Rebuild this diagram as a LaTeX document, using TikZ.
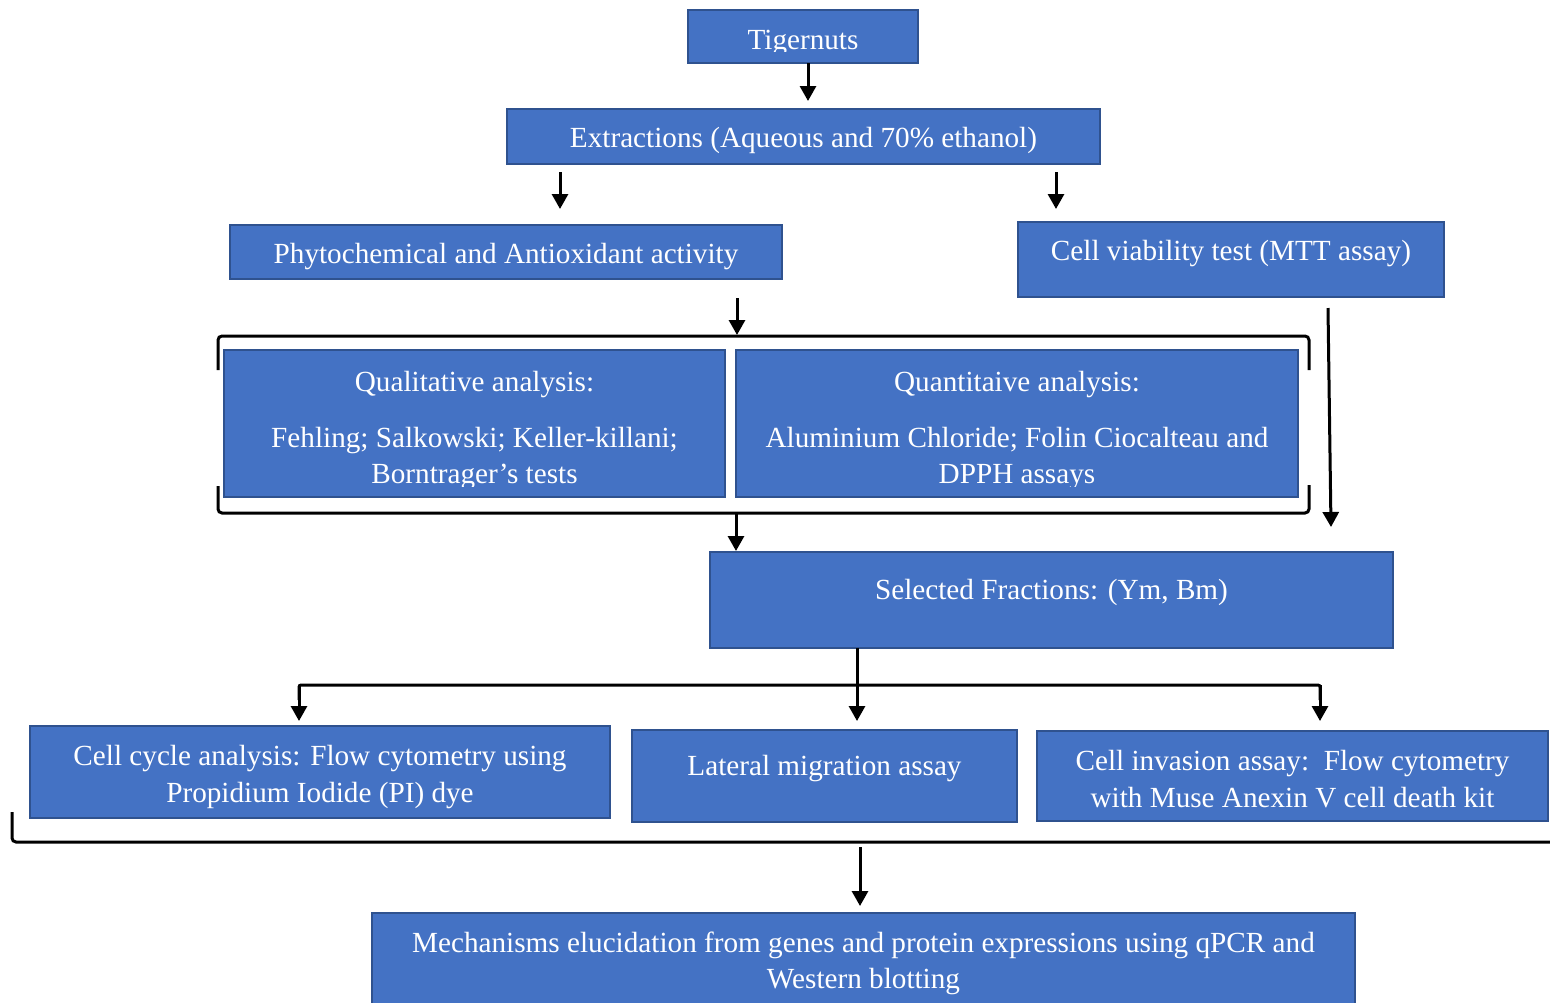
\documentclass[tikz,border=0pt]{standalone}
\usepackage{fontspec}
\setmainfont{Liberation Serif}
\usetikzlibrary{arrows.meta}
\definecolor{boxfill}{HTML}{4472C4}
\definecolor{boxline}{HTML}{2F528F}
\begin{document}
\begin{tikzpicture}[x=1pt,y=-1pt,
  box/.style={draw=boxline, fill=boxfill, line width=2pt, rectangle, inner sep=0pt, outer sep=0pt, anchor=north west},
  txt/.style={text=white, font=\fontsize{29.2}{36}\selectfont, inner sep=0pt, anchor=base},
  arr/.style={line width=3pt, -{Triangle[width=16pt,length=15pt]}},
  brk/.style={line width=3pt, rounded corners=4pt}]
\useasboundingbox (0,0) rectangle (1550,1002);
% boxes
\node[box, minimum width=230pt, minimum height=53pt] (tig) at (688,10) {};
\node[box, minimum width=593pt, minimum height=55pt] (ext) at (507,109) {};
\node[box, minimum width=552pt, minimum height=54pt] (phy) at (230,225) {};
\node[box, minimum width=426pt, minimum height=75pt] (via) at (1018,222) {};
\node[box, minimum width=501pt, minimum height=147pt] (qual) at (224,350) {};
\node[box, minimum width=562pt, minimum height=147pt] (quan) at (736,350) {};
\node[box, minimum width=683pt, minimum height=96pt] (sel) at (710,552) {};
\node[box, minimum width=580pt, minimum height=92pt] (cyc) at (30,726) {};
\node[box, minimum width=385pt, minimum height=92pt] (lat) at (632,730) {};
\node[box, minimum width=511pt, minimum height=90pt] (inv) at (1037,731) {};
\node[box, minimum width=983pt, minimum height=97pt] (mech) at (372,913) {};
% texts
\begin{scope}
\clip (688,10) rectangle (918,51);
\node[txt] (tigT) at (803,49) {Tigernuts};
\end{scope}
\node[txt] (extT) at (803.5,147) {Extractions (Aqueous and 70\% ethanol)};
\node[txt] (phyT) at (506,263) {Phytochemical and Antioxidant activity};
\node[txt] (viaT) at (1231,260) {Cell viability test (MTT assay)};
\node[txt] (qualT1) at (474.5,391) {Qualitative analysis:};
\node[txt] (qualT2) at (474.5,447) {Fehling; Salkowski; Keller-killani;};
\node[txt] (quanT1) at (1017,391) {Quantitaive analysis:};
\node[txt] (quanT2) at (1017,447) {Aluminium Chloride; Folin Ciocalteau and};
\begin{scope}
\clip (224,350) rectangle (1298,486);
\node[txt] (qualT3) at (474.5,483) {Borntrager’s tests};
\node[txt] (quanT3) at (1017,483) {DPPH assays};
\end{scope}
\node[txt] (selT) at (1051.5,599) {Selected Fractions: (Ym, Bm)};
\node[txt] (cycT1) at (320,765) {Cell cycle analysis: Flow cytometry using};
\node[txt] (cycT2) at (320,802) {Propidium Iodide (PI) dye};
\node[txt] (latT) at (824.5,775) {Lateral migration assay};
\node[txt] (invT1) at (1292.5,770) {Cell invasion assay:\ \ Flow cytometry};
\node[txt] (invT2) at (1292.5,807) {with Muse Anexin V cell death kit};
\node[txt] (mechT1) at (863.5,952) {Mechanisms elucidation from genes and protein expressions using qPCR and};
\node[txt] (mechT2) at (863.5,988) {Western blotting};
% brackets
\draw[brk] (218,370) -- (218,336) -- (1309,336) -- (1309,370);
\draw[brk] (218,486) -- (218,513) -- (1309,513) -- (1309,485);
\draw[brk] (12,812) -- (12,842) -- (1552,842);
% connector coordinates
\coordinate (c1a) at (808,63);   \coordinate (c1b) at (808,101);
\coordinate (c2a) at (560,172);  \coordinate (c2b) at (560,209);
\coordinate (c3a) at (1056,172); \coordinate (c3b) at (1056,209);
\coordinate (c4a) at (737,298);  \coordinate (c4b) at (737,335);
\coordinate (c5a) at (1328,308); \coordinate (c5b) at (1331,527);
\coordinate (c6a) at (736,514);  \coordinate (c6b) at (736,551);
\coordinate (c7a) at (857,648);  \coordinate (c7b) at (857,721);
\coordinate (hl) at (299,685);   \coordinate (hr) at (1320,685);
\coordinate (c8b) at (299,721);  \coordinate (c9b) at (1320,721);
\coordinate (c10a) at (860,847); \coordinate (c10b) at (860,906);
% connectors
\draw[arr] (c1a) -- (c1b);
\draw[arr] (c2a) -- (c2b);
\draw[arr] (c3a) -- (c3b);
\draw[arr] (c4a) -- (c4b);
\draw[arr] (c5a) -- (c5b);
\draw[arr] (c6a) -- (c6b);
\draw[arr] (c7a) -- (c7b);
\draw[line width=3pt, rounded corners=2pt] (c8b |- 0,700) -- (hl) -- (hr) -- (c9b |- 0,700);
\draw[arr] (hl) -- (c8b);
\draw[arr] (hr) -- (c9b);
\draw[arr] (c10a) -- (c10b);
\end{tikzpicture}
\end{document}
